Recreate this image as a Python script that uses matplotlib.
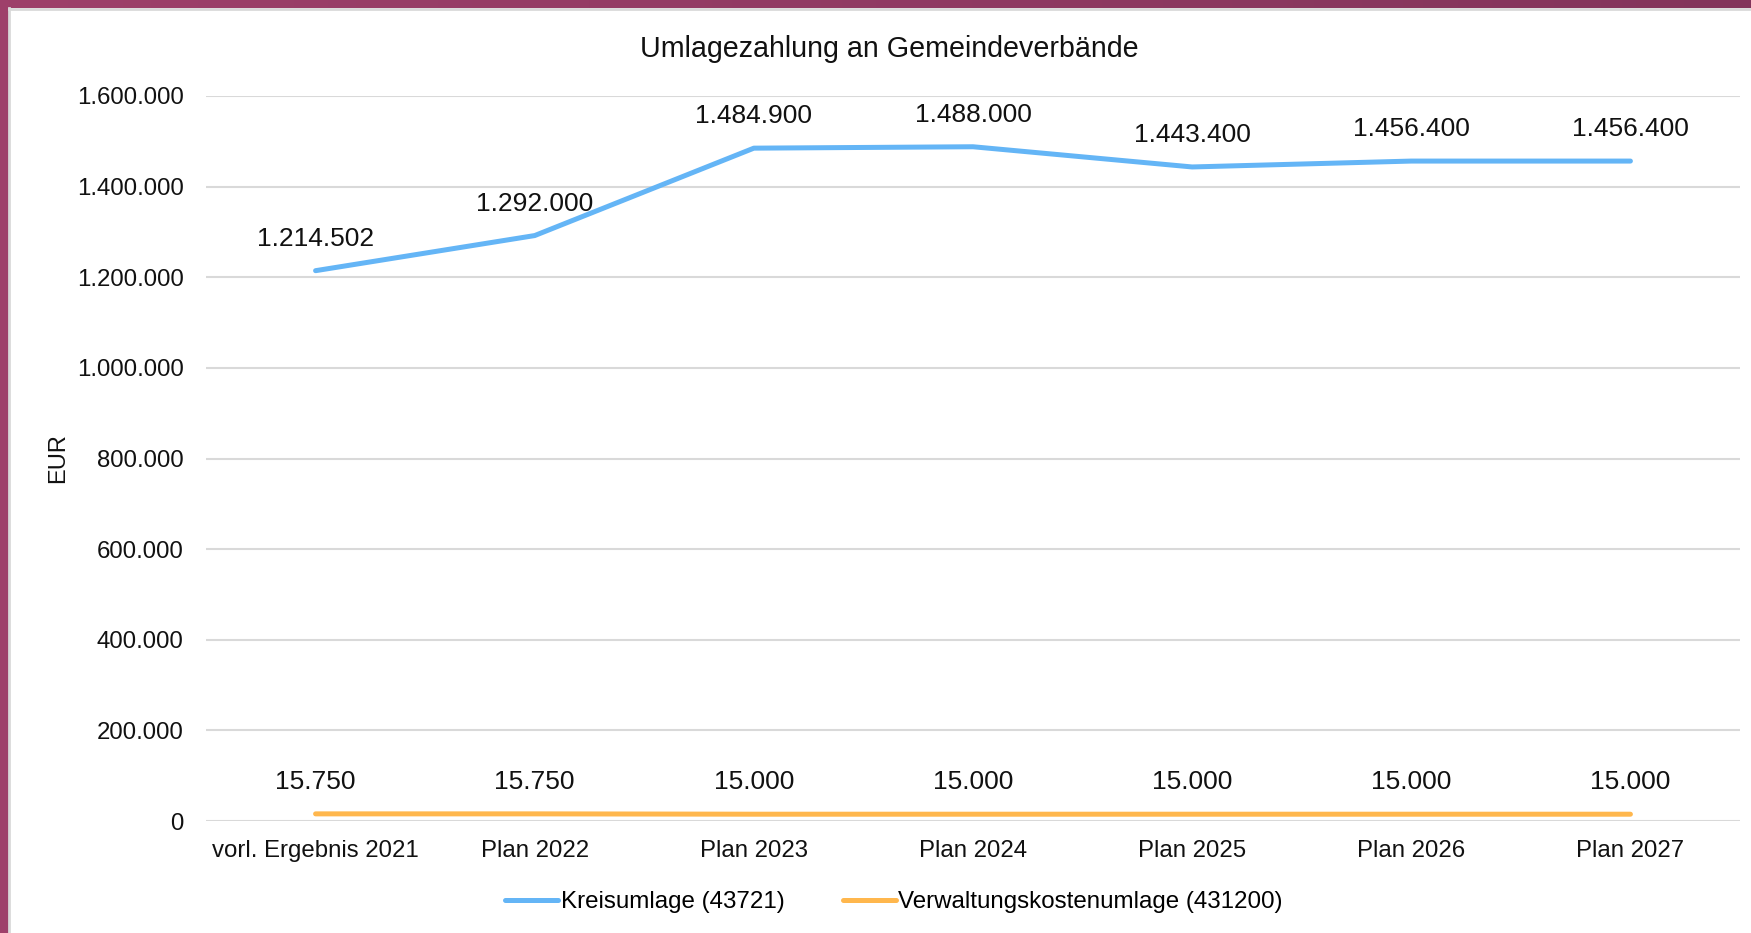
import numpy as np
import matplotlib
matplotlib.use("Agg")
import matplotlib.pyplot as plt
from matplotlib.ticker import FuncFormatter, MultipleLocator

plt.rcParams['font.family'] = ['Liberation Sans', 'DejaVu Sans']

# data
categories = ['vorl. Ergebnis 2021', 'Plan 2022', 'Plan 2023', 'Plan 2024',
              'Plan 2025', 'Plan 2026', 'Plan 2027']
kreisumlage = [1214502, 1292000, 1484900, 1488000, 1443400, 1456400, 1456400]
verwaltung = [15750, 15750, 15000, 15000, 15000, 15000, 15000]
series_names = ['Kreisumlage (43721)', 'Verwaltungskostenumlage (431200)']
series_colors = ['#64B5F6', '#FFB74D']


def de_fmt(v, pos=None):
    return f"{v:,.0f}".replace(",", ".")


fig = plt.figure(figsize=(17.51, 9.33), dpi=100)
W, H = 1751, 933

# purple frame (top gradient strip, left strip)
top = fig.add_axes([0, 1 - 8 / H, 1, 8 / H])
grad = np.linspace(0, 1, 256).reshape(1, -1)
cmap = matplotlib.colors.LinearSegmentedColormap.from_list('frame', ['#9E406A', '#83345B'])
top.imshow(grad, aspect='auto', cmap=cmap, extent=[0, 1, 0, 1])
top.axis('off')
fig.patches.append(plt.Rectangle((0, 0), 8 / W, 1, transform=fig.transFigure,
                                 color='#9E406A', zorder=0))
fig.lines.append(plt.Line2D([9 / W, 9 / W], [0, 1 - 8 / H], transform=fig.transFigure,
                            color='#d9d9d9', lw=2))
fig.lines.append(plt.Line2D([9 / W, 1], [1 - 9 / H, 1 - 9 / H], transform=fig.transFigure,
                            color='#d9d9d9', lw=2))

ax = fig.add_axes([206 / W, 1 - 821 / H, 1534 / W, 725 / H])
x = np.arange(len(categories))

for vals, name, col in zip([kreisumlage, verwaltung], series_names, series_colors):
    ax.plot(x, vals, color=col, lw=3.6, solid_capstyle='round', label=name, zorder=3)
    for xi, v in zip(x, vals):
        ax.annotate(de_fmt(v), (xi, v), xytext=(0, 23), textcoords='offset points',
                    ha='center', va='center', fontsize=19, color='#111111')

ax.set_xlim(-0.5, len(categories) - 0.5)
ax.set_ylim(0, 1600000)
ax.yaxis.set_major_locator(MultipleLocator(200000))
ax.yaxis.set_major_formatter(FuncFormatter(de_fmt))
ax.set_xticks(x)
ax.set_xticklabels(categories)
ax.tick_params(axis='y', length=0, pad=16, labelsize=17.3, colors='#111111')
ax.tick_params(axis='x', length=0, pad=13.5, labelsize=17.3, colors='#111111')
ax.grid(axis='y', color='#d9d9d9', lw=1.5)
ax.set_axisbelow(True)
for s in ax.spines.values():
    s.set_visible(False)

ax.set_ylabel('EUR', fontsize=17, color='#111111')
ax.yaxis.set_label_coords(-0.089, 0.5)

fig.text(889 / W, 1 - 49 / H, 'Umlagezahlung an Gemeindeverbände', ha='center', va='center',
         fontsize=20.6, color='#111111')

fig.legend(loc='center', bbox_to_anchor=(894 / W, 1 - 902 / H), ncol=2, frameon=False,
           fontsize=17.4, handlelength=2.2, handletextpad=0.1, columnspacing=2.4)

fig.savefig('out.png', dpi=100, facecolor='white')
